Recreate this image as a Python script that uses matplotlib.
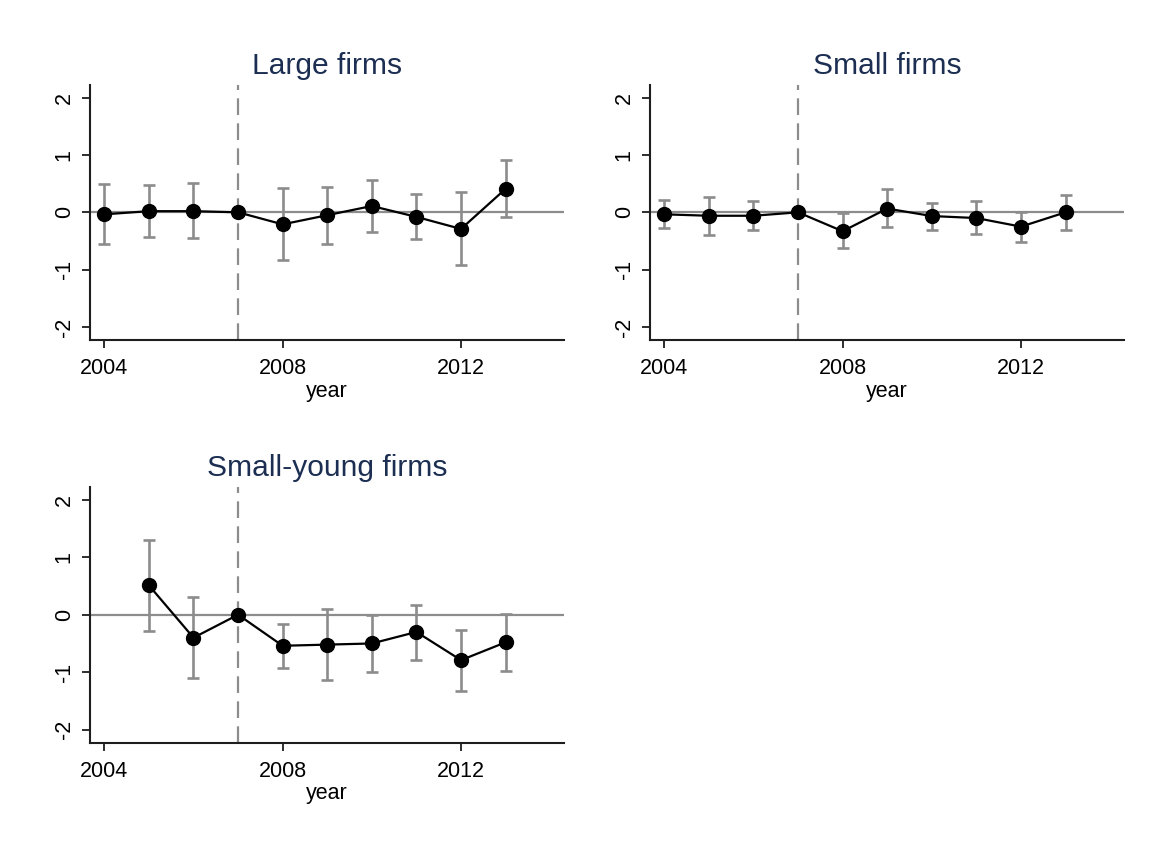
import numpy as np
import matplotlib
matplotlib.use("Agg")
import matplotlib.pyplot as plt

plt.rcParams['font.family'] = ['Liberation Sans', 'DejaVu Sans']
plt.rcParams['lines.scale_dashes'] = False

# event-study coefficients with 95% confidence bounds, by firm group
years_large = [2004, 2005, 2006, 2007, 2008, 2009, 2010, 2011, 2012, 2013]
coef_large = [-0.035, 0.02, 0.02, 0.0, -0.21, -0.05, 0.11, -0.08, -0.29, 0.41]
lo_large = [-0.56, -0.43, -0.45, 0.0, -0.83, -0.56, -0.34, -0.47, -0.92, -0.09]
hi_large = [0.495, 0.47, 0.51, 0.0, 0.42, 0.45, 0.56, 0.32, 0.36, 0.92]

years_small = [2004, 2005, 2006, 2007, 2008, 2009, 2010, 2011, 2012, 2013]
coef_small = [-0.035, -0.06, -0.06, 0.0, -0.33, 0.065, -0.065, -0.10, -0.25, 0.0]
lo_small = [-0.27, -0.40, -0.30, 0.0, -0.63, -0.25, -0.30, -0.38, -0.51, -0.30]
hi_small = [0.22, 0.27, 0.20, 0.0, -0.02, 0.40, 0.17, 0.19, 0.005, 0.30]

years_young = [2005, 2006, 2007, 2008, 2009, 2010, 2011, 2012, 2013]
coef_young = [0.51, -0.40, 0.0, -0.54, -0.52, -0.50, -0.30, -0.79, -0.48]
lo_young = [-0.29, -1.10, 0.0, -0.93, -1.14, -0.99, -0.78, -1.33, -0.98]
hi_young = [1.30, 0.30, 0.0, -0.16, 0.10, -0.01, 0.175, -0.26, 0.02]

titles = ['Large firms', 'Small firms', 'Small-young firms']
xticks = [2004, 2008, 2012]
yticks = [-2, -1, 0, 1, 2]
event_year = 2007

grey = '#8c8c8c'
ink = '#1e1e1e'
navy = '#1c2e52'

fig = plt.figure(figsize=(11.56, 8.42), dpi=100)
boxes = [[0.0779, 0.596, 0.410, 0.303],
         [0.5623, 0.596, 0.410, 0.303],
         [0.0779, 0.1176, 0.410, 0.304]]
series = [(years_large, coef_large, lo_large, hi_large),
          (years_small, coef_small, lo_small, hi_small),
          (years_young, coef_young, lo_young, hi_young)]

for box, title, (yr, c, lo, hi) in zip(boxes, titles, series):
    ax = fig.add_axes(box)
    yr = np.array(yr)
    c = np.array(c)
    lo = np.array(lo)
    hi = np.array(hi)

    ax.axhline(0, color=grey, lw=1.6, zorder=1)
    ax.axvline(event_year, color=grey, lw=1.6, linestyle=(0, (12, 6)), zorder=1)
    ax.errorbar(yr, c, yerr=[c - lo, hi - c], fmt='none', ecolor=grey,
                elinewidth=1.9, capsize=4, capthick=1.9, zorder=2)
    ax.plot(yr, c, color='black', lw=1.6, marker='o', markersize=10, zorder=3)

    ax.set_xlim(2003.68, 2014.31)
    ax.set_ylim(-2.23, 2.22)
    ax.set_xticks(xticks)
    ax.set_yticks(yticks)
    ax.set_yticklabels([str(v) for v in yticks], rotation=90, va='center')
    ax.tick_params(direction='out', length=6, width=1.3, color=ink,
                   labelsize=15.5, labelcolor='black')
    ax.tick_params(axis='x', pad=7)
    ax.tick_params(axis='y', pad=5)
    for side in ['top', 'right']:
        ax.spines[side].set_visible(False)
    for side in ['left', 'bottom']:
        ax.spines[side].set_color(ink)
        ax.spines[side].set_linewidth(1.5)
    ax.set_xlabel('year', fontsize=15.5, labelpad=1)
    ax.set_title(title, fontsize=21.6, color=navy, pad=7.7)

fig.savefig('out.png', dpi=100, facecolor='white')
